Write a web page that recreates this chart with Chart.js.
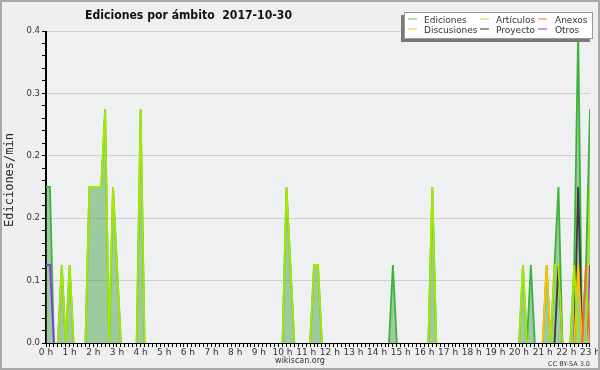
<!DOCTYPE html>
<html>
<head>
<meta charset="utf-8">
<script src="https://cdn.jsdelivr.net/npm/chart.js@4.4.0/dist/chart.umd.min.js"></script>
<style>
  html, body { margin: 0; padding: 0; background: #efefef; }
  canvas { display: block; }
</style>
</head>
<body>
<canvas id="chart" width="600" height="370"></canvas>
<script>
// values are [minute of day, edits per minute], 10-minute buckets
const ediciones = [
  [0,0.2],[10,0.2],[20,0],
  [30,0],[40,0.1],[50,0],[60,0.1],[70,0],
  [100,0],[110,0.2],[120,0.2],[130,0.2],[140,0.2],[150,0.3],[160,0],[170,0.2],[180,0.1],[190,0],
  [230,0],[240,0.3],[250,0],
  [600,0],[610,0.2],[620,0.1],[630,0],
  [670,0],[680,0.1],[690,0.1],[700,0],
  [870,0],[880,0.1],[890,0],
  [970,0],[980,0.2],[990,0],
  [1200,0],[1210,0.1],[1220,0],[1230,0.1],[1240,0],
  [1260,0],[1270,0.1],[1280,0],[1290,0.1],[1300,0.2],[1310,0],
  [1330,0],[1340,0.1],[1350,0.4],[1360,0],[1370,0.1],[1380,0.3]
];
const articulos = [
  [30,0],[40,0.1],[50,0],[60,0.1],[70,0],
  [100,0],[110,0.2],[120,0.2],[130,0.2],[140,0.2],[150,0.3],[160,0],[170,0.2],[180,0.1],[190,0],
  [230,0],[240,0.3],[250,0],
  [600,0],[610,0.2],[620,0.1],[630,0],
  [670,0],[680,0.1],[690,0.1],[700,0],
  [970,0],[980,0.2],[990,0],
  [1200,0],[1210,0.1],[1220,0],
  [1280,0],[1290,0.1],[1300,0.1],[1310,0],
  [1330,0],[1340,0.1],[1350,0],[1370,0],[1380,0.2]
];
const anexos = [[1360,0],[1370,0.1],[1380,0]];
const discusiones = [[1260,0],[1270,0.1],[1280,0],[1340,0],[1350,0.1],[1360,0]];
const proyecto = [[1290,0],[1300,0.1],[1310,0],[1340,0],[1350,0.2],[1360,0]];
const otros = [[0,0.1],[10,0.1],[20,0],[1370,0],[1380,0.1]];

const hourLabels = ['0 h','1 h','2 h','3 h','4 h','5 h','6 h','7 h','8 h','9 h','10 h','11 h',
  '12 h','13 h','14 h','15 h','16 h','17 h','18 h','19 h','20 h','21 h','22 h','23 h'];
const yTickLabels = ['0.0','0.1','0.2','0.2','0.3','0.4'];

const colors = {
  ediciones: '#3cb43c',
  articulos: '#a8e800',
  anexos: '#ff6633',
  discusiones: '#ffc000',
  proyecto: '#3a3a3a',
  otros: '#8a33ee'
};

const toXY = arr => arr.map(p => ({ x: p[0], y: p[1] }));
// don't stroke flat segments lying on the zero line
const hideFlat = { borderColor: c => (c.p0.parsed.y === 0 && c.p1.parsed.y === 0) ? 'rgba(0,0,0,0)' : undefined };

function line(label, data, color, order) {
  return {
    label: label,
    data: toXY(data),
    borderColor: color,
    borderWidth: 1.8,
    pointRadius: 0,
    fill: false,
    order: order,
    segment: hideFlat
  };
}

const datasets = [
  Object.assign(line('Ediciones', ediciones, colors.ediciones, 1), {
    fill: 'origin', backgroundColor: 'rgba(45,150,45,0.42)'
  }),
  line('Artículos', articulos, colors.articulos, 0),
  line('Anexos', anexos, colors.anexos, 0),
  line('Discusiones', discusiones, colors.discusiones, 0),
  line('Proyecto', proyecto, colors.proyecto, 0),
  line('Otros', otros, colors.otros, 0)
];

const decor = {
  id: 'decor',
  beforeDraw(chart) {
    const c = chart.ctx;
    c.save();
    c.fillStyle = '#efefef';
    c.fillRect(0, 0, 600, 370);
    const a = chart.chartArea;
    c.fillStyle = '#eff0f2';
    c.fillRect(a.left, a.top, a.right - a.left, a.bottom - a.top);
    c.restore();
  },
  afterDatasetsDraw(chart) {
    const c = chart.ctx, a = chart.chartArea;
    c.save();
    c.strokeStyle = '#000';
    c.lineWidth = 1;
    c.beginPath();
    c.moveTo(a.left - 0.5, a.top);
    c.lineTo(a.left - 0.5, a.bottom + 0.5);
    c.lineTo(a.right, a.bottom + 0.5);
    c.stroke();
    c.restore();
  },
  afterDraw(chart) {
    const c = chart.ctx;
    c.save();
    // outer frame
    c.strokeStyle = '#a8a8a8';
    c.lineWidth = 2;
    c.strokeRect(1, 1, 598, 368);

    // title
    c.fillStyle = '#111';
    c.font = 'bold 12px "DejaVu Sans"';
    c.textBaseline = 'alphabetic';
    c.textAlign = 'left';
    c.fillText('Ediciones por ámbito  2017-10-30', 85, 18.5, 207);

    // y title
    c.save();
    c.translate(10, 180);
    c.rotate(-Math.PI / 2);
    c.font = '12px "DejaVu Sans Mono"';
    c.textAlign = 'center';
    c.textBaseline = 'middle';
    c.fillStyle = '#222';
    c.fillText('Ediciones/min', 0, 0);
    c.restore();

    // footer
    c.fillStyle = '#333';
    c.font = '8px "DejaVu Sans"';
    c.textAlign = 'center';
    c.fillText('wikiscan.org', 300, 363);
    c.font = '6.5px "DejaVu Sans"';
    c.textAlign = 'right';
    c.fillText('CC BY-SA 3.0', 590, 366);

    // legend
    c.fillStyle = '#7a7a7a';
    c.fillRect(401, 15, 189, 27);
    c.fillStyle = '#ffffff';
    c.fillRect(404, 12, 189, 27);
    c.strokeStyle = '#999';
    c.lineWidth = 1;
    c.strokeRect(404.5, 12.5, 188, 26);
    const cols = [[408, 424], [480, 496], [538, 555]];
    const rows = [[19, 22.5], [29, 32.5]];
    const items = [
      ['Ediciones', '#7ccf7c'], ['Artículos', '#c8ee50'], ['Anexos', '#ff8a5c'],
      ['Discusiones', '#ffd24a'], ['Proyecto', '#555555'], ['Otros', '#9955ee']
    ];
    c.font = '9px "DejaVu Sans"';
    c.textAlign = 'left';
    items.forEach((it, i) => {
      const col = cols[i % 3], row = rows[Math.floor(i / 3)];
      c.strokeStyle = it[1];
      c.lineWidth = 1.2;
      c.beginPath();
      c.moveTo(col[0], row[0]);
      c.lineTo(col[0] + 9, row[0]);
      c.stroke();
      c.fillStyle = '#333';
      c.fillText(it[0], col[1], row[1]);
    });
    c.restore();
  }
};

new Chart(document.getElementById('chart').getContext('2d'), {
  type: 'line',
  data: { datasets: datasets },
  options: {
    responsive: false,
    animation: false,
    devicePixelRatio: 1,
    layout: { padding: { top: 31, right: 10, left: 0, bottom: 0 } },
    plugins: { legend: { display: false }, title: { display: false }, tooltip: { enabled: false } },
    scales: {
      x: {
        type: 'linear',
        min: 0,
        max: 1380,
        afterFit: s => { s.height = 27; },
        afterBuildTicks: s => {
          const t = [];
          for (let m = 0; m <= 1380; m += 10) t.push({ value: m });
          s.ticks = t;
        },
        ticks: {
          autoSkip: false,
          maxRotation: 0,
          padding: 0,
          color: '#333',
          font: { family: 'DejaVu Sans', size: 9 },
          callback: v => (v % 60 === 0 ? hourLabels[v / 60] : '')
        },
        grid: { drawOnChartArea: false, tickColor: '#000', tickLength: 4 },
        border: { color: '#000' }
      },
      y: {
        min: 0,
        max: 0.4,
        afterFit: s => { s.width = 46; },
        afterBuildTicks: s => {
          const t = [];
          for (let i = 0; i <= 25; i++) t.push({ value: i * 0.016 });
          s.ticks = t;
        },
        ticks: {
          autoSkip: false,
          padding: 2,
          color: '#333',
          font: { family: 'DejaVu Sans', size: 8.5 },
          callback: (v, i) => (i % 5 === 0 ? yTickLabels[i / 5] : '')
        },
        grid: {
          color: c => (c.index % 5 === 0 && c.index > 0 ? '#cfcfcf' : 'rgba(0,0,0,0)'),
          tickColor: '#000',
          tickLength: 4
        },
        border: { color: '#000' }
      }
    }
  },
  plugins: [decor]
});
</script>
</body>
</html>
